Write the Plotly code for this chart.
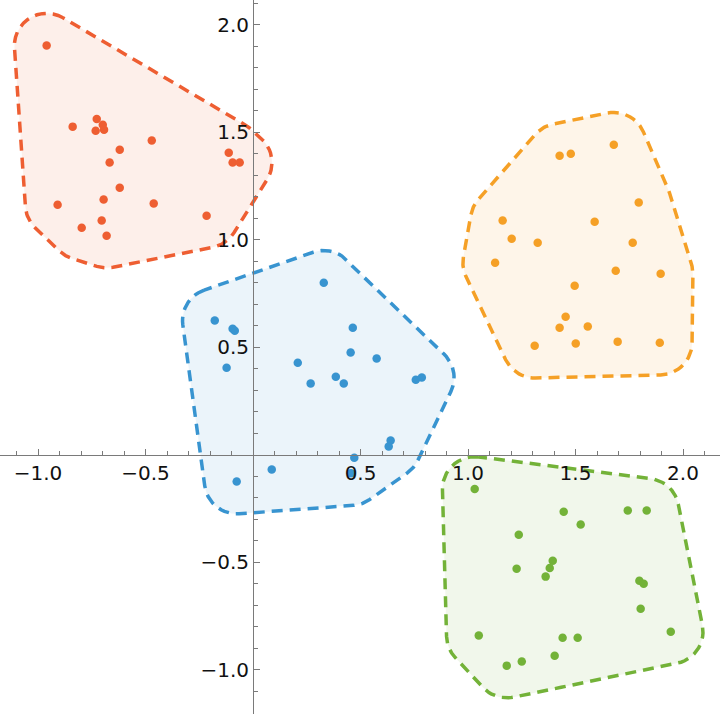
import numpy as np
import plotly.graph_objects as go

# ---- data ----
red_x = [-0.960, -0.839, -0.727, -0.699, -0.732, -0.693, -0.471, -0.620, -0.667, -0.113,
         -0.095, -0.062, -0.620, -0.695, -0.909, -0.462, -0.216, -0.704, -0.797, -0.681]
red_y = [1.904, 1.527, 1.563, 1.536, 1.508, 1.513, 1.462, 1.420, 1.360, 1.406,
         1.360, 1.360, 1.243, 1.188, 1.164, 1.169, 1.113, 1.090, 1.057, 1.020]

orange_x = [1.678, 1.426, 1.478, 1.794, 1.161, 1.589, 1.203, 1.324, 1.766, 1.126,
            1.687, 1.896, 1.496, 1.454, 1.426, 1.557, 1.310, 1.501, 1.696, 1.892]
orange_y = [1.443, 1.392, 1.401, 1.174, 1.090, 1.085, 1.006, 0.987, 0.987, 0.894,
            0.857, 0.843, 0.787, 0.643, 0.592, 0.597, 0.508, 0.518, 0.527, 0.522]

blue_x = [0.329, -0.178, -0.095, -0.085, 0.464, 0.454, 0.575, -0.123, 0.208, 0.385,
          0.268, 0.422, 0.757, 0.785, 0.640, 0.631, 0.471, 0.087, -0.076, 0.456]
blue_y = [0.801, 0.625, 0.587, 0.578, 0.592, 0.476, 0.448, 0.406, 0.429, 0.364,
          0.332, 0.332, 0.350, 0.360, 0.067, 0.039, -0.013, -0.068, -0.124, -0.085]

green_x = [1.031, 1.445, 1.743, 1.831, 1.524, 1.236, 1.394, 1.380, 1.226, 1.361,
           1.797, 1.817, 1.803, 1.050, 1.440, 1.510, 1.943, 1.403, 1.250, 1.180]
green_y = [-0.158, -0.264, -0.259, -0.259, -0.324, -0.371, -0.492, -0.526, -0.529, -0.566,
           -0.585, -0.599, -0.715, -0.840, -0.850, -0.850, -0.822, -0.934, -0.961, -0.980]

tick_vals = [-1.0, -0.5, 0.5, 1.0, 1.5, 2.0]
tick_text = ["\u22121.0", "\u22120.5", "0.5", "1.0", "1.5", "2.0"]

groups = [
    (red_x, red_y, "#EE5E32"),
    (blue_x, blue_y, "#3894D0"),
    (orange_x, orange_y, "#F5A026"),
    (green_x, green_y, "#73B238"),
]

X_RANGE = [-1.177, 2.172]
Y_RANGE = [-1.205, 2.116]
PAD = 0.15


def convex_hull(xs, ys):
    pts = sorted(set(zip(xs, ys)))

    def cross(o, a, b):
        return (a[0] - o[0]) * (b[1] - o[1]) - (a[1] - o[1]) * (b[0] - o[0])

    lower, upper = [], []
    for p in pts:
        while len(lower) >= 2 and cross(lower[-2], lower[-1], p) <= 0:
            lower.pop()
        lower.append(p)
    for p in reversed(pts):
        while len(upper) >= 2 and cross(upper[-2], upper[-1], p) <= 0:
            upper.pop()
        upper.append(p)
    return lower[:-1] + upper[:-1]  # counter-clockwise


def rounded_outline(xs, ys, r, n=14):
    h = np.array(convex_hull(xs, ys))
    m = len(h)
    ox, oy = [], []
    for i in range(m):
        p0, p1, p2 = h[i - 1], h[i], h[(i + 1) % m]
        e1 = p1 - p0
        e2 = p2 - p1
        # outward normal of a CCW edge (dx, dy) is (dy, -dx)
        a1 = np.arctan2(-e1[0], e1[1])
        a2 = np.arctan2(-e2[0], e2[1])
        while a2 < a1:
            a2 += 2 * np.pi
        for t in np.linspace(a1, a2, n):
            ox.append(p1[0] + r * np.cos(t))
            oy.append(p1[1] + r * np.sin(t))
    ox.append(ox[0])
    oy.append(oy[0])
    return ox, oy


def hex_rgba(hx, a):
    hx = hx.lstrip("#")
    r, g, b = int(hx[0:2], 16), int(hx[2:4], 16), int(hx[4:6], 16)
    return f"rgba({r},{g},{b},{a})"


fig = go.Figure()

for xs, ys, col in groups:
    hx, hy = rounded_outline(xs, ys, PAD)
    fig.add_trace(go.Scatter(
        x=hx, y=hy, mode="lines", fill="toself",
        fillcolor=hex_rgba(col, 0.10),
        line=dict(color=col, width=3.5, dash="11px,7px"),
        hoverinfo="skip", showlegend=False,
    ))

for xs, ys, col in groups:
    fig.add_trace(go.Scatter(
        x=xs, y=ys, mode="markers",
        marker=dict(color=col, size=8.5, line=dict(width=0)),
        showlegend=False,
    ))

minor_vals = [round(v, 1) for v in np.arange(-1.1, 2.15, 0.1) if abs(v) > 1e-6]

x_pos = (0 - Y_RANGE[0]) / (Y_RANGE[1] - Y_RANGE[0])
y_pos = (0 - X_RANGE[0]) / (X_RANGE[1] - X_RANGE[0])

axis_common = dict(
    showgrid=False, zeroline=False, showline=True,
    linecolor="#7a7a7a", linewidth=1,
    ticks="inside", ticklen=6, tickcolor="#7a7a7a", tickwidth=1,
    tickmode="array", tickvals=tick_vals, ticktext=tick_text,
    tickfont=dict(family="DejaVu Sans", size=20, color="#111111"),
    minor=dict(tickmode="array", tickvals=minor_vals, ticklen=3.5,
               tickcolor="#7a7a7a", tickwidth=1, ticks="inside"),
    anchor="free", automargin=False,
)

fig.update_layout(
    width=720, height=714,
    margin=dict(l=0, r=0, t=0, b=0),
    paper_bgcolor="white", plot_bgcolor="white",
    hovermode=False,
    xaxis=dict(range=X_RANGE, position=x_pos, **axis_common),
    yaxis=dict(range=Y_RANGE, position=y_pos, **axis_common),
)

fig.write_html(
    "out.html",
    config={"displayModeBar": False, "staticPlot": True},
    post_script="document.body.style.margin='0';document.body.style.overflow='hidden';",
)
